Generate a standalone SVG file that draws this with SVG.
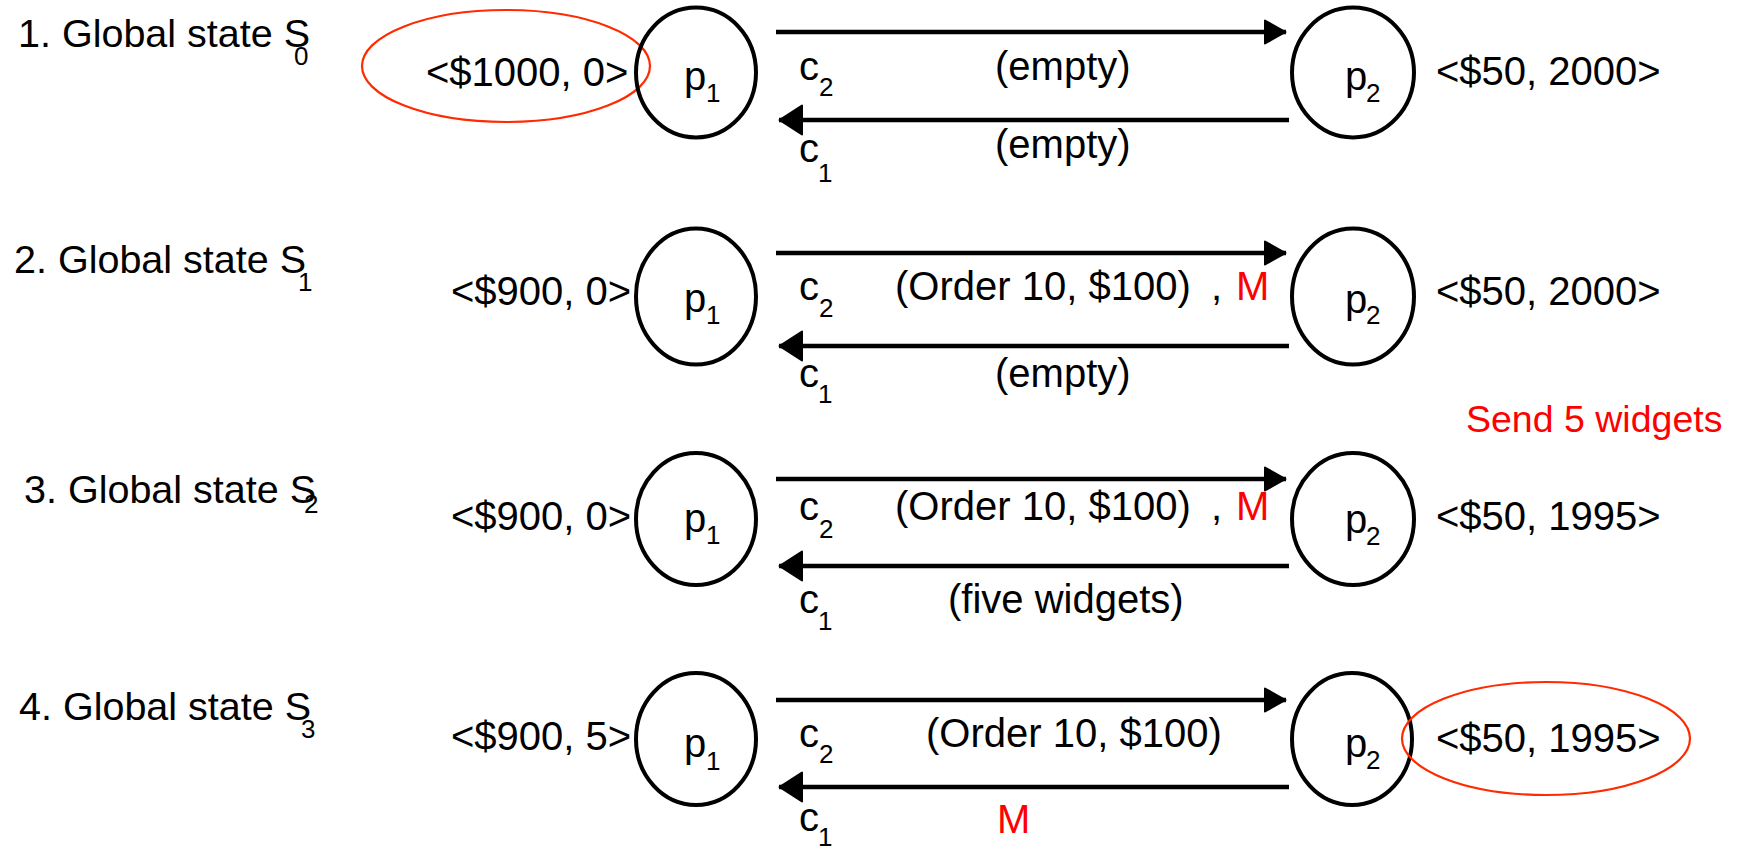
<svg xmlns="http://www.w3.org/2000/svg" width="1742" height="850" viewBox="0 0 1742 850">
  <defs>
    <style>
      text { font-family: "Liberation Sans", Arial, Helvetica, sans-serif; fill: #000; }
      .t { font-size: 40px; }
      .h { font-size: 39.5px; }
      .note { font-size: 37.5px; }
      .sub { font-size: 26px; }
      .red { fill: #ff0000; }
      .proc { fill: none; stroke: #000; stroke-width: 4; }
      .hl { fill: none; stroke: #ff2a00; stroke-width: 2.2; }
      .chan { stroke: #000; stroke-width: 4.5; fill: none; }
      .fwd { marker-end: url(#headR); }
      .back { marker-end: url(#headL); }
    </style>
    <marker id="headR" markerUnits="userSpaceOnUse" viewBox="0 0 23 26" refX="22" refY="13" markerWidth="23" markerHeight="26" orient="auto" overflow="visible">
      <path d="M1,1.5 L21.5,13 L1,24.5 Z" fill="#000" stroke="#000" stroke-width="2" stroke-linejoin="round"/>
    </marker>
    <marker id="headL" markerUnits="userSpaceOnUse" viewBox="0 0 25 32" refX="24" refY="16" markerWidth="25" markerHeight="32" orient="auto" overflow="visible">
      <path d="M1,1.5 L23.5,16 L1,30.5 Z" fill="#000" stroke="#000" stroke-width="2" stroke-linejoin="round"/>
    </marker>
  </defs>
  <rect width="1742" height="850" fill="#fff"/>

  <!-- state titles -->
  <g id="titles">
    <text class="h" x="18" y="47">1. Global state S</text><text class="sub" x="294" y="65">0</text>
    <text class="h" x="14" y="273">2. Global state S</text><text class="sub" x="298" y="291">1</text>
    <text class="h" x="24" y="503">3. Global state S</text><text class="sub" x="304" y="513">2</text>
    <text class="h" x="19" y="720">4. Global state S</text><text class="sub" x="301" y="738">3</text>
  </g>

  <!-- channels between the two processes -->
  <g id="connectors">
    <line class="chan fwd" x1="776" y1="32" x2="1286" y2="32"/>
    <line class="chan back" x1="1289" y1="120" x2="779" y2="120"/>
    <line class="chan fwd" x1="776" y1="253" x2="1286" y2="253"/>
    <line class="chan back" x1="1289" y1="346" x2="779" y2="346"/>
    <line class="chan fwd" x1="776" y1="479" x2="1286" y2="479"/>
    <line class="chan back" x1="1289" y1="566" x2="779" y2="566"/>
    <line class="chan fwd" x1="776" y1="700" x2="1286" y2="700"/>
    <line class="chan back" x1="1289" y1="787" x2="779" y2="787"/>
  </g>

  <!-- state S0 -->
  <g id="s0-p1">
    <ellipse class="hl" cx="506" cy="66" rx="144" ry="56"/>
    <text class="t" x="426" y="86">&lt;$1000, 0&gt;</text>
    <ellipse class="proc" cx="696" cy="72.5" rx="60" ry="65"/>
    <text class="t" x="684" y="90">p</text><text class="sub" x="706" y="102">1</text>
  </g>
  <g id="s0-channels">
    <text class="t" x="799" y="80">c</text><text class="sub" x="819" y="96">2</text>
    <text class="t" x="995" y="80">(empty)</text>
    <text class="t" x="799" y="162">c</text><text class="sub" x="818" y="182">1</text>
    <text class="t" x="995" y="158">(empty)</text>
  </g>
  <g id="s0-p2">
    <ellipse class="proc" cx="1353" cy="72.5" rx="61" ry="65"/>
    <text class="t" x="1345" y="90">p</text><text class="sub" x="1366" y="102">2</text>
    <text class="t" x="1436" y="85">&lt;$50, 2000&gt;</text>
  </g>

  <!-- state S1 -->
  <g id="s1-p1">
    <text class="t" x="451" y="305">&lt;$900, 0&gt;</text>
    <ellipse class="proc" cx="696" cy="296.5" rx="60" ry="68"/>
    <text class="t" x="684" y="312">p</text><text class="sub" x="706" y="324">1</text>
  </g>
  <g id="s1-channels">
    <text class="t" x="799" y="300">c</text><text class="sub" x="819" y="317">2</text>
    <text class="t" x="895" y="300">(Order 10, $100)</text>
    <text class="t" x="1211" y="300">,</text>
    <text class="t red" x="1236" y="300">M</text>
    <text class="t" x="799" y="387">c</text><text class="sub" x="818" y="403">1</text>
    <text class="t" x="995" y="387">(empty)</text>
  </g>
  <g id="s1-p2">
    <ellipse class="proc" cx="1353" cy="296.5" rx="61" ry="68"/>
    <text class="t" x="1345" y="313">p</text><text class="sub" x="1366" y="324">2</text>
    <text class="t" x="1436" y="305">&lt;$50, 2000&gt;</text>
  </g>
  <g id="send-note">
    <text class="note red" x="1466" y="432">Send 5 widgets</text>
  </g>

  <!-- state S2 -->
  <g id="s2-p1">
    <text class="t" x="451" y="530">&lt;$900, 0&gt;</text>
    <ellipse class="proc" cx="696" cy="519" rx="60" ry="66"/>
    <text class="t" x="684" y="532">p</text><text class="sub" x="706" y="544">1</text>
  </g>
  <g id="s2-channels">
    <text class="t" x="799" y="520">c</text><text class="sub" x="819" y="538">2</text>
    <text class="t" x="895" y="520">(Order 10, $100)</text>
    <text class="t" x="1211" y="520">,</text>
    <text class="t red" x="1236" y="520">M</text>
    <text class="t" x="799" y="613">c</text><text class="sub" x="818" y="630">1</text>
    <text class="t" x="948" y="613">(five widgets)</text>
  </g>
  <g id="s2-p2">
    <ellipse class="proc" cx="1353" cy="519" rx="61" ry="66"/>
    <text class="t" x="1345" y="533">p</text><text class="sub" x="1366" y="545">2</text>
    <text class="t" x="1436" y="530">&lt;$50, 1995&gt;</text>
  </g>

  <!-- state S3 -->
  <g id="s3-p1">
    <text class="t" x="451" y="750">&lt;$900, 5&gt;</text>
    <ellipse class="proc" cx="696" cy="739" rx="60" ry="66"/>
    <text class="t" x="684" y="757">p</text><text class="sub" x="706" y="770">1</text>
  </g>
  <g id="s3-channels">
    <text class="t" x="799" y="747">c</text><text class="sub" x="819" y="763">2</text>
    <text class="t" x="926" y="747">(Order 10, $100)</text>
    <text class="t" x="799" y="831">c</text><text class="sub" x="818" y="846">1</text>
    <text class="t red" x="997" y="833">M</text>
  </g>
  <g id="s3-p2">
    <ellipse class="proc" cx="1352" cy="739" rx="60" ry="66"/>
    <text class="t" x="1345" y="757">p</text><text class="sub" x="1366" y="769">2</text>
    <ellipse class="hl" cx="1546" cy="738.5" rx="144" ry="56.5"/>
    <text class="t" x="1436" y="752">&lt;$50, 1995&gt;</text>
  </g>
</svg>
